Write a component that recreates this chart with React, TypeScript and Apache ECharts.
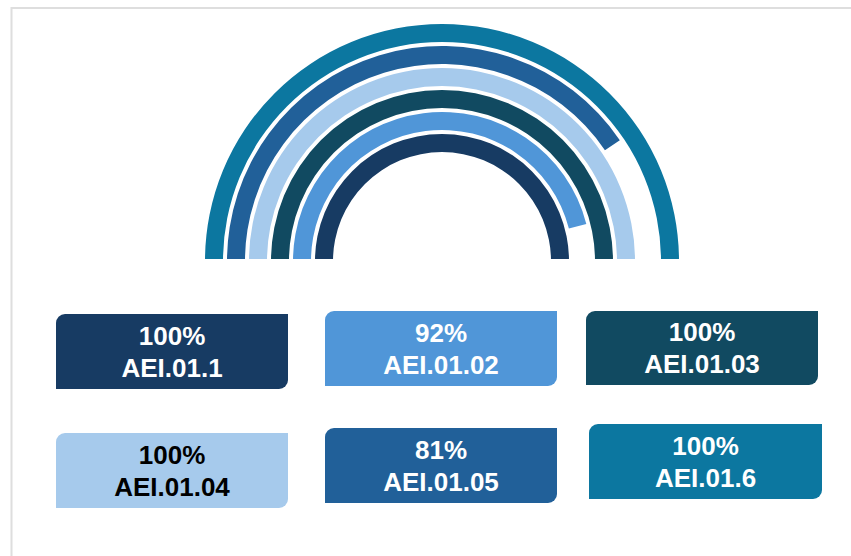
import React, { useEffect, useRef } from "react";
import * as echarts from "echarts";

const codes = ["AEI.01.1", "AEI.01.02", "AEI.01.03", "AEI.01.04", "AEI.01.05", "AEI.01.6"];
const values = [100, 92, 100, 100, 81, 100];
const colors = ["#173b63", "#5096d8", "#114a61", "#a6caec", "#216099", "#0c77a0"];
const textColors = ["#ffffff", "#ffffff", "#ffffff", "#000000", "#ffffff", "#ffffff"];

// layout of the label boxes (x, y, w, h)
const BOXES = [
  [56, 314, 232, 75],
  [325, 311, 232, 75],
  [586, 311, 232, 74],
  [56, 433, 232, 75],
  [325, 428, 232, 75],
  [589, 424, 233, 75],
];

export default function App() {
  const ref = useRef<HTMLDivElement>(null);
  useEffect(() => {
    if (!ref.current) return;
    const chart = echarts.init(ref.current, null, { renderer: "svg" });
    const graphics: any[] = [
      {
        type: "rect",
        shape: { x: 11.5, y: 8, width: 900, height: 700 },
        style: { fill: "none", stroke: "#dedede", lineWidth: 2 },
        silent: true,
        z: 0,
      },
      {
        type: "rect",
        shape: { x: 180, y: 259, width: 520, height: 5 },
        style: { fill: "#ffffff" },
        silent: true,
        z: 100,
      },
    ];
    codes.forEach((code, i) => {
      const [x, y, w, h] = BOXES[i];
      graphics.push({
        type: "rect",
        shape: { x, y, width: w, height: h, r: [9, 0, 9, 0] },
        style: { fill: colors[i] },
        z: 10,
      });
      graphics.push({
        type: "text",
        x: x + w / 2,
        y: y + h / 2,
        style: {
          text: `${values[i]}%\n${code}`,
          fill: textColors[i],
          font: 'bold 26px "Liberation Sans", Arial, sans-serif',
          align: "center",
          verticalAlign: "middle",
          lineHeight: 32,
        },
        z: 11,
      });
    });
    chart.setOption({
      animation: false,
      backgroundColor: "#ffffff",
      polar: { center: [442, 261], radius: [107, 239] },
      angleAxis: {
        type: "value",
        min: 0,
        max: 200,
        startAngle: 180,
        clockwise: true,
        show: false,
        axisLine: { show: false },
        splitLine: { show: false },
        axisTick: { show: false },
        axisLabel: { show: false },
      },
      radiusAxis: {
        type: "category",
        data: codes,
        show: false,
        axisLine: { show: false },
        splitLine: { show: false },
        axisTick: { show: false },
        axisLabel: { show: false },
      },
      series: [
        {
          type: "bar",
          coordinateSystem: "polar",
          barWidth: 18,
          data: values.map((v, i) => ({ value: v, itemStyle: { color: colors[i] } })),
          silent: true,
        },
      ],
      graphic: graphics,
    });
    return () => chart.dispose();
  }, []);
  return (
    <div
      ref={ref}
      style={{ position: "fixed", left: 0, top: 0, width: 851, height: 556 }}
    />
  );
}
